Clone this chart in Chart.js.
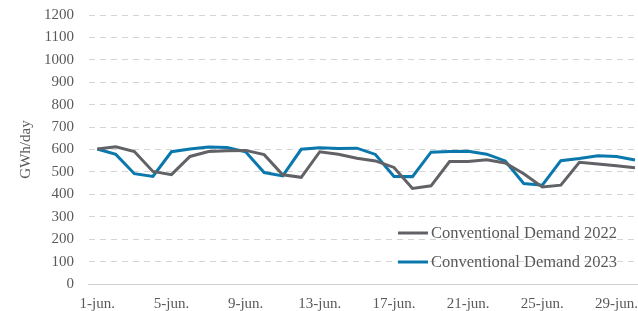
<!DOCTYPE html>
<html>
<head>
<meta charset="utf-8">
<script src="https://cdn.jsdelivr.net/npm/chart.js@4"></script>
<style>
  html, body { margin: 0; padding: 0; background: #fff; overflow: hidden; }
  #wrap { width: 646px; height: 311px; }
</style>
</head>
<body>
<div id="wrap"><canvas id="chart"></canvas></div>
<script>
// days of June
const days = [
  '1-jun.', '2-jun.', '3-jun.', '4-jun.', '5-jun.', '6-jun.', '7-jun.', '8-jun.',
  '9-jun.', '10-jun.', '11-jun.', '12-jun.', '13-jun.', '14-jun.', '15-jun.',
  '16-jun.', '17-jun.', '18-jun.', '19-jun.', '20-jun.', '21-jun.', '22-jun.',
  '23-jun.', '24-jun.', '25-jun.', '26-jun.', '27-jun.', '28-jun.', '29-jun.', '30-jun.'
];

// GWh/day
const demand2022 = [
  602, 612, 591, 502, 488, 569, 591, 594, 596, 577,
  487, 476, 590, 579, 561, 549, 520, 426, 438, 546,
  546, 554, 540, 492, 433, 441, 543, 535, 528, 519
];
const demand2023 = [
  602, 578, 492, 480, 590, 602, 611, 609, 590, 497,
  482, 601, 608, 604, 606, 578, 480, 479, 588, 591,
  592, 579, 549, 448, 441, 550, 560, 572, 569, 553
];

const seriesNames = ['Conventional Demand 2022', 'Conventional Demand 2023'];
const yMax = 1200;
const yStep = 100;

const FONT = '"Liberation Serif", "DejaVu Serif", serif';

// legend drawn inside the plot, bottom right
const insideLegend = {
  id: 'insideLegend',
  afterDraw(chart) {
    const { ctx, chartArea } = chart;
    ctx.save();
    ctx.font = '16.5px ' + FONT;
    ctx.fillStyle = '#595959';
    ctx.textBaseline = 'middle';
    ctx.textAlign = 'left';
    chart.data.datasets.forEach((ds, i) => {
      const y = chartArea.bottom - 51 + i * 29;
      const x0 = chartArea.left + 310;
      ctx.strokeStyle = ds.borderColor;
      ctx.lineWidth = 3;
      ctx.beginPath();
      ctx.moveTo(x0, y);
      ctx.lineTo(x0 + 30, y);
      ctx.stroke();
      ctx.fillText(ds.label, x0 + 33, y + 1);
    });
    ctx.restore();
  }
};

new Chart(document.getElementById('chart'), {
  type: 'line',
  data: {
    labels: days,
    datasets: [
      {
        label: seriesNames[0],
        data: demand2022,
        borderColor: '#616266',
        borderWidth: 3,
        pointRadius: 0,
        tension: 0,
        fill: false
      },
      {
        label: seriesNames[1],
        data: demand2023,
        borderColor: '#0a78ad',
        borderWidth: 3,
        pointRadius: 0,
        tension: 0,
        fill: false
      }
    ]
  },
  options: {
    responsive: true,
    maintainAspectRatio: false,
    animation: false,
    layout: { padding: { top: 15, right: 0, bottom: 0, left: 0 } },
    plugins: {
      legend: { display: false },
      tooltip: { enabled: false }
    },
    scales: {
      x: {
        offset: true,
        grid: { display: false, drawTicks: false },
        border: { display: true, color: '#d0d0d0', width: 1 },
        ticks: {
          autoSkip: false,
          maxRotation: 0,
          padding: 11,
          color: '#595959',
          font: { family: FONT, size: 15 },
          callback: (v, i) => (i % 4 === 0 ? days[i] : '')
        },
        afterFit: (scale) => { scale.height = 27; }
      },
      y: {
        min: 0,
        max: yMax,
        grid: { color: '#d4d4d4', lineWidth: 1, drawTicks: false },
        border: { display: true, color: 'rgba(0,0,0,0)', dash: [6, 5] },
        ticks: {
          stepSize: yStep,
          padding: 14,
          color: '#595959',
          font: { family: FONT, size: 15 },
          callback: (v) => String(v)
        },
        title: {
          display: true,
          text: 'GWh/day',
          color: '#595959',
          font: { family: FONT, size: 15 },
          padding: { top: 17, bottom: 0 }
        },
        afterFit: (scale) => {
          scale.width = 88;
          scale.paddingTop = 0;
          scale.paddingBottom = 0;
        }
      }
    }
  },
  plugins: [insideLegend]
});
</script>
</body>
</html>
